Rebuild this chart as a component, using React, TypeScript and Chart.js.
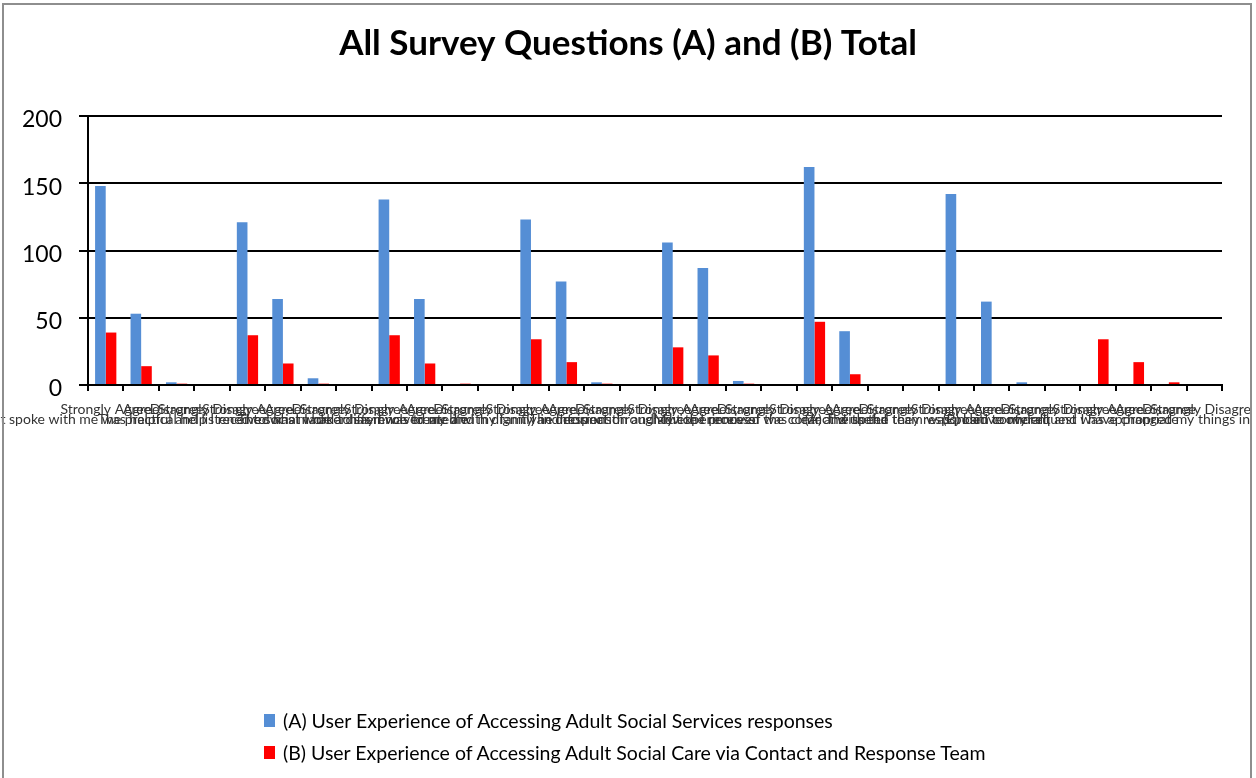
import React, { useEffect, useRef } from "react";
import { Chart, registerables } from "chart.js";

Chart.register(...registerables);

const answers = ["Strongly Agree", "Agree", "Disagree", "Strongly Disagree"];
const questions = [
  "The person that spoke with me was helpful and listened to what I had to say",
  "The practical help I received has made a difference to my life",
  "The social worker has involved me and my family in decisions",
  "I was treated with dignity and respect throughout the process",
  "The information and advice I received was clear and useful",
  "My experience of the contact with the team was positive overall",
  "(A) The speed they responded to my request was appropriate",
  "(B) I am confident and I have changed my things in the process",
];
const seriesA = [
  148, 53, 2, 0,
  121, 64, 5, 0,
  138, 64, 0, 0,
  123, 77, 2, 0,
  106, 87, 3, 0,
  162, 40, 0, 0,
  142, 62, 2, 0,
  0, 0, 0, 0,
];
const seriesB = [
  39, 14, 1, 0,
  37, 16, 1, 0,
  37, 16, 1, 0,
  34, 17, 1, 0,
  28, 22, 1, 0,
  47, 8, 0, 0,
  0, 0, 0, 0,
  34, 17, 2, 0,
];
const seriesNames = [
  "(A) User Experience of Accessing Adult Social Services responses",
  "(B) User Experience of Accessing Adult Social Care via Contact and Response Team",
];
const seriesColors = ["#558ED5", "#FF0000"];
const yTicks = [0, 50, 100, 150, 200];
const titleText = "All Survey Questions (A) and (B) Total";

export default function App() {
  const ref = useRef<HTMLCanvasElement>(null);

  useEffect(() => {
    const labels = questions.flatMap((q) =>
      answers.map((a, i) => [a, i === 1 ? q : ""])
    );
    const chart = new Chart(ref.current as HTMLCanvasElement, {
      type: "bar",
      data: {
        labels,
        datasets: [
          {
            label: seriesNames[0],
            data: seriesA,
            backgroundColor: seriesColors[0],
            categoryPercentage: 0.6,
            barPercentage: 1,
            yAxisID: "y",
          },
          {
            label: seriesNames[1],
            data: seriesB,
            backgroundColor: seriesColors[1],
            categoryPercentage: 0.6,
            barPercentage: 1,
            yAxisID: "y",
          },
        ],
      },
      options: {
        animation: false,
        responsive: false,
        maintainAspectRatio: false,
        layout: { padding: { left: 0, right: 0, top: 0, bottom: 343 } },
        plugins: {
          legend: { display: false },
          tooltip: { enabled: false },
          title: {
            display: true,
            text: titleText,
            color: "#000",
            font: { family: "Lato", size: 35, weight: "bold", lineHeight: 1.2 },
            padding: { top: 23, bottom: 51 },
          },
        },
        scales: {
          x: {
            grid: {
              offset: true,
              drawOnChartArea: false,
              drawTicks: true,
              tickLength: 6,
              color: "#000",
              lineWidth: 2,
            },
            border: { color: "#000", width: 2 },
            ticks: {
              autoSkip: false,
              maxRotation: 0,
              minRotation: 0,
              color: "#333333",
              font: { family: "Lato", size: 14, lineHeight: 0.75 },
              padding: 13,
            },
            afterFit: (s: any) => {
              s.height = 50;
              s.paddingLeft = 0;
              s.paddingRight = 0;
            },
          },
          y: {
            position: "left",
            min: 0,
            max: 200,
            afterBuildTicks: (s: any) => {
              s.ticks = yTicks.map((v) => ({ value: v }));
            },
            ticks: {
              color: "#000",
              font: { family: "Lato", size: 23 },
              padding: 17,
              labelOffset: 4,
            },
            grid: { color: "#000", lineWidth: 2, tickLength: 9 },
            border: { color: "#000", width: 2 },
            afterFit: (s: any) => {
              s.width = 88;
            },
          },
          ySpace: {
            position: "right",
            min: 0,
            max: 200,
            grid: { display: false, drawTicks: false },
            border: { display: false },
            ticks: { display: false },
            afterFit: (s: any) => {
              s.width = 34;
            },
          },
        },
      },
    });
    return () => chart.destroy();
  }, []);

  return (
    <div>
      <canvas
        ref={ref}
        width={1256}
        height={778}
        style={{ position: "fixed", left: 0, top: 0, width: 1256, height: 778, display: "block" }}
      />
      <div
        style={{
          position: "fixed",
          left: 1250,
          top: 0,
          width: 6,
          height: 778,
          background: "#fff",
        }}
      />
      <div
        style={{
          position: "fixed",
          left: 2,
          top: 3,
          width: 1250,
          height: 800,
          border: "2px solid #8E8E8E",
          boxSizing: "border-box",
          pointerEvents: "none",
        }}
      />
      <div
        style={{
          position: "fixed",
          left: 264,
          top: 709,
          fontFamily: "Lato",
          fontSize: 19.5,
          color: "#000",
        }}
      >
        {seriesNames.map((name, i) => (
          <div
            key={name}
            style={{ display: "flex", alignItems: "center", height: 22, marginBottom: 10, whiteSpace: "nowrap" }}
          >
            <span
              style={{
                display: "inline-block",
                width: 11,
                height: 13,
                background: seriesColors[i],
                marginRight: 8,
              }}
            />
            <span>{name}</span>
          </div>
        ))}
      </div>
    </div>
  );
}
